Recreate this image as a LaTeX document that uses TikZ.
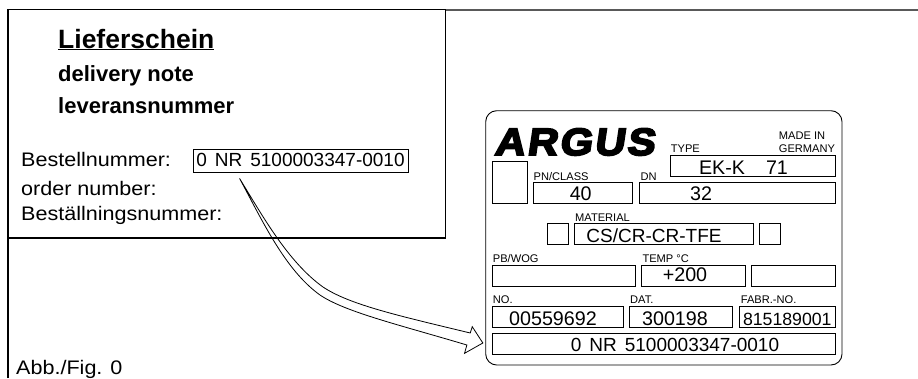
\documentclass[tikz,border=0pt]{standalone}
\usepackage{fontspec}
\setmainfont{Liberation Sans}
\newfontfamily\argusfont[FakeBold=5,FakeSlant=0.15,FakeStretch=1.1,LetterSpace=6]{Liberation Sans Bold}
\newfontfamily\wideregular[FakeStretch=1.1]{Liberation Sans}
\usetikzlibrary{arrows.meta,shapes,positioning,calc}

\begin{document}
\begin{tikzpicture}[x=1pt,y=-1pt,
  feld/.style={draw,line width=0.9pt,inner sep=0pt,minimum height=21pt},
  klein/.style={anchor=base west,inner sep=0pt,font=\fontsize{11.1}{11.1}\selectfont},
  wert/.style={anchor=base,inner sep=0pt,font=\fontsize{19.7}{19.7}\selectfont},
  nrwert/.style={anchor=base,inner sep=0pt,font=\fontsize{19}{19}\selectfont},
  fliess/.style={anchor=base west,inner sep=0pt,font=\wideregular\fontsize{19.6}{19.6}\selectfont},
  kopf/.style={anchor=base west,inner sep=0pt,font=\bfseries\fontsize{22}{22}\selectfont},
  rahmen/.style={line width=1.4pt}]
\useasboundingbox (0,0) rectangle (918,378);
\draw[line width=2.2pt,black!65] (445,10)--(918,10);
\draw[rahmen] (8,378)--(8,9.5)--(445.5,9.5)--(445.5,238)--(8,238);
\node[kopf,font=\bfseries\fontsize{26.5}{26.5}\selectfont](liefer) at(58,48){\underline{Lieferschein}};
\node[kopf](delivery) at(58,81.5){delivery note};
\node[kopf](lever) at(58,113){leveransnummer};
\node[fliess](best) at(21,166.5){Bestellnummer:};
\node[fliess](order) at(21,195){order number:};
\node[fliess](bestae) at(21,220){Beställningsnummer:};
\node[feld,minimum width=215.4pt,minimum height=23.7pt](nummer) at(301,160.8){};
\node[nrwert](nummertxt) at(300.5,166.5){0\hspace{8pt}NR\hspace{8pt}5100003347-0010};
% typenschild
\draw[line width=0.9pt,rounded corners=11pt] (485.7,110.7) rectangle (842,365);
\node[anchor=base west,inner sep=0pt,font=\argusfont\fontsize{38}{38}\selectfont](argus) at(494,155){ARGUS};
\node[feld,minimum width=34.7pt,minimum height=41.6pt](leer) at(509.6,182.5){};
\node[feld,minimum width=165pt](type) at(753.2,165.6){};
\node[feld,minimum width=99.4pt](pn) at(583,192.8){};
\node[feld,minimum width=196.4pt](dn) at(737.5,192.8){};
\node[feld,minimum width=21.4pt](matl) at(558,234.3){};
\node[feld,minimum width=179pt](mat) at(664.2,234.3){};
\node[feld,minimum width=21pt](matr) at(770.2,234.3){};
\node[feld,minimum width=143.4pt](pb) at(564,275.5){};
\node[feld,minimum width=103.3pt](temp) at(693.3,275.5){};
\node[feld,minimum width=84.4pt](frei) at(793.5,275.5){};
\node[feld,minimum width=130.7pt](no) at(557.6,316.8){};
\node[feld,minimum width=103.4pt](dat) at(681,316.8){};
\node[feld,minimum width=96.4pt](fabr) at(787.5,316.8){};
\node[feld,minimum width=343.4pt](nr) at(664,344.3){};
\node[klein](madein) at(778.7,139.3){MADE IN};
\node[klein](germany) at(778.7,152.7){GERMANY};
\node[klein](typel) at(670.7,152.7){TYPE};
\node[klein](pnl) at(533.5,180.7){PN/CLASS};
\node[klein](dnl) at(640.3,180.7){DN};
\node[klein](matel) at(575,221){MATERIAL};
\node[klein](pbl) at(492.7,262.7){PB/WOG};
\node[klein](templ) at(642.3,262.7){TEMP °C};
\node[klein](nol) at(492.7,303.7){NO.};
\node[klein](datl) at(630,303.7){DAT.};
\node[klein](fabrl) at(740.7,303.7){FABR.-NO.};
\node[wert](typev) at(743.5,174){EK-K\hspace{21pt}71};
\node[wert](pnv) at(580.7,200){40};
\node[wert](dnv) at(701,200){32};
\node[nrwert](matv) at(654,242.7){CS/CR-CR-TFE};
\node[wert](tempv) at(685,281.7){+200};
\node[wert](nov) at(553,325){00559692};
\node[wert](datv) at(675,325){300198};
\node[nrwert,font=\fontsize{17.7}{17.7}\selectfont](fabrv) at(787.3,325){815189001};
\node[nrwert](nrv) at(675,351.7){0\hspace{8pt}NR\hspace{8pt}5100003347-0010};
\node[fliess](abb) at(16,374){Abb./Fig. 0};
% pfeil
\coordinate(pfeila) at ($(nummer.south west)+(46.7,5.3)$);
\coordinate(pfeilb) at ($(nr.west)+(-9,-1.3)$);
\draw[line width=0.8pt,line join=miter] (pfeila)
  .. controls (262,215) and (288,262) .. (323,287)
  .. controls (350,305) and (400,316) .. ($(pfeilb)+(-12.6,-10)$)
  -- ($(pfeilb)+(-10.6,-16.3)$) -- (pfeilb) -- ($(pfeilb)+(-18.3,10.3)$) -- ($(pfeilb)+(-16,2)$)
  .. controls (400,325) and (345,312) .. (320,295)
  .. controls (285,270) and (262,220) .. (pfeila) -- cycle;
\end{tikzpicture}
\end{document}
